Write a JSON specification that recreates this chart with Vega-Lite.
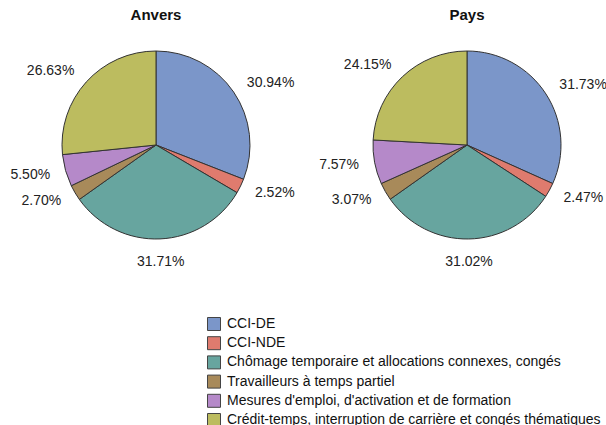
{
  "$schema": "https://vega.github.io/schema/vega-lite/v6.json",
  "padding": {"left": 10, "top": 8, "right": 0, "bottom": 0},
  "background": "white",
  "bounds": "flush",
  "config": {"view": {"stroke": null}, "font": "Liberation Sans"},
  "data": {"values": [
    {"region": "Anvers", "k": 1, "cat": "CCI-DE", "v": 30.94},
    {"region": "Anvers", "k": 2, "cat": "CCI-NDE", "v": 2.52},
    {"region": "Anvers", "k": 3, "cat": "Chômage temporaire et allocations connexes, congés", "v": 31.71},
    {"region": "Anvers", "k": 4, "cat": "Travailleurs à temps partiel", "v": 2.70},
    {"region": "Anvers", "k": 5, "cat": "Mesures d'emploi, d'activation et de formation", "v": 5.50},
    {"region": "Anvers", "k": 6, "cat": "Crédit-temps, interruption de carrière et congés thématiques", "v": 26.63},
    {"region": "Pays", "k": 1, "cat": "CCI-DE", "v": 31.73},
    {"region": "Pays", "k": 2, "cat": "CCI-NDE", "v": 2.47},
    {"region": "Pays", "k": 3, "cat": "Chômage temporaire et allocations connexes, congés", "v": 31.02},
    {"region": "Pays", "k": 4, "cat": "Travailleurs à temps partiel", "v": 3.07},
    {"region": "Pays", "k": 5, "cat": "Mesures d'emploi, d'activation et de formation", "v": 7.57},
    {"region": "Pays", "k": 6, "cat": "Crédit-temps, interruption de carrière et congés thématiques", "v": 24.15}
  ]},
  "transform": [
    {"calculate": "format(datum.v, '.2f') + '%'", "as": "lab"},
    {"joinaggregate": [{"op": "sum", "field": "v", "as": "tot"}], "groupby": ["region"]},
    {"window": [{"op": "sum", "field": "v", "as": "cum"}], "groupby": ["region"], "sort": [{"field": "k", "order": "ascending"}], "frame": [null, 0]},
    {"calculate": "(datum.cum - datum.v / 2) / datum.tot", "as": "mf"}
  ],
  "facet": {
    "column": {"field": "region", "type": "nominal", "sort": ["Anvers", "Pays"],
      "header": {"title": null, "labelFontSize": 15, "labelFontWeight": "bold", "labelFont": "Liberation Sans", "labelColor": "#111", "labelPadding": 4}}
  },
  "spacing": 21,
  "spec": {
    "width": 290,
    "height": 236,
    "layer": [
      {
        "mark": {"type": "arc", "outerRadius": 94, "stroke": "#333", "strokeWidth": 1},
        "encoding": {
          "theta": {"field": "v", "type": "quantitative", "stack": "normalize"},
          "order": {"field": "k", "type": "quantitative"},
          "color": {"field": "cat", "type": "nominal",
            "scale": {
              "domain": ["CCI-DE", "CCI-NDE", "Chômage temporaire et allocations connexes, congés", "Travailleurs à temps partiel", "Mesures d'emploi, d'activation et de formation", "Crédit-temps, interruption de carrière et congés thématiques"],
              "range": ["#7b96c9", "#df7b6e", "#67a59f", "#a88a5a", "#b589c9", "#bcbc5f"]
            },
            "legend": {
              "title": null, "orient": "none", "legendX": 196, "legendY": 290,
              "symbolType": "square", "symbolSize": 169, "symbolStrokeColor": "#444", "symbolStrokeWidth": 1,
              "symbolOpacity": 1,
              "labelFontSize": 14, "labelFont": "Liberation Sans", "labelColor": "#111", "labelLimit": 500,
              "rowPadding": 1.2, "labelOffset": 6
            }
          }
        }
      },
      {
        "transform": [{"filter": "datum.mf < 0.45"}],
        "mark": {"type": "text", "radius": 110, "fontSize": 14, "font": "Liberation Sans", "fill": "#222", "align": "left", "baseline": "middle"},
        "encoding": {
          "theta": {"field": "mf", "type": "quantitative", "stack": null, "scale": {"domain": [0, 1]}},
          "text": {"field": "lab"}
        }
      },
      {
        "transform": [{"filter": "datum.mf >= 0.45 && datum.mf <= 0.55"}],
        "mark": {"type": "text", "radius": 110, "fontSize": 14, "font": "Liberation Sans", "fill": "#222", "align": "center", "baseline": "top"},
        "encoding": {
          "theta": {"field": "mf", "type": "quantitative", "stack": null},
          "text": {"field": "lab"}
        }
      },
      {
        "transform": [{"filter": "datum.mf > 0.55"}],
        "mark": {"type": "text", "radius": 110, "fontSize": 14, "font": "Liberation Sans", "fill": "#222", "align": "right", "baseline": "middle"},
        "encoding": {
          "theta": {"field": "mf", "type": "quantitative", "stack": null},
          "text": {"field": "lab"}
        }
      }
    ]
  }
}
